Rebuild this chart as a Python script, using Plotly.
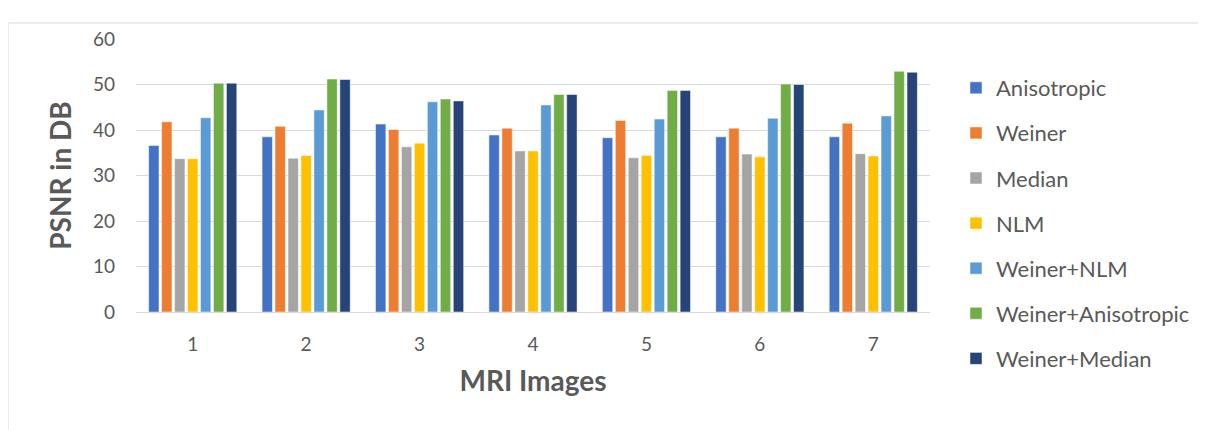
import plotly.graph_objects as go

categories = ["1", "2", "3", "4", "5", "6", "7"]
series_names = ["Anisotropic", "Weiner", "Median", "NLM", "Weiner+NLM",
                "Weiner+Anisotropic", "Weiner+Median"]
anisotropic = [36.6, 38.5, 41.3, 38.9, 38.3, 38.5, 38.5]
weiner = [41.8, 40.8, 40.1, 40.4, 42.1, 40.4, 41.5]
median = [33.7, 33.8, 36.3, 35.4, 33.9, 34.7, 34.8]
nlm = [33.7, 34.4, 37.1, 35.4, 34.4, 34.1, 34.3]
weiner_nlm = [42.7, 44.4, 46.2, 45.5, 42.4, 42.6, 43.1]
weiner_aniso = [50.3, 51.2, 46.8, 47.8, 48.7, 50.1, 52.9]
weiner_median = [50.3, 51.1, 46.4, 47.8, 48.7, 50.0, 52.7]
colors = ["#4472C4", "#ED7D31", "#A5A5A5", "#FFC000", "#5B9BD5", "#70AD47", "#264478"]
y_ticks = [0, 10, 20, 30, 40, 50, 60]

all_series = [anisotropic, weiner, median, nlm, weiner_nlm, weiner_aniso, weiner_median]

FONT = "Lato"
fig = go.Figure()
for name, vals, col in zip(series_names, all_series, colors):
    fig.add_trace(go.Bar(
        x=categories, y=vals, name=name, legendgroup=name,
        marker=dict(color=col, line=dict(color="white", width=0.5)),
    ))

# figure coords (page body has an 8px margin)
W, H = 1198, 422
L, T = 128, 31
PR, PB = 922, 304
R, B = W - PR, H - PB
pw, ph = PR - L, PB - T

fig.update_layout(
    width=W, height=H,
    margin=dict(l=L, r=R, t=T, b=B, autoexpand=False),
    paper_bgcolor="white", plot_bgcolor="white",
    barmode="group", bargap=0.2, bargroupgap=0.2,
    font=dict(family=FONT, color="#595959"),
    showlegend=True,
    legend=dict(
        x=(948 - L) / pw, y=1 - (59 - T) / ph, xanchor="left", yanchor="top",
        font=dict(size=22, color="#595959", family=FONT),
        traceorder="grouped", tracegroupgap=13.5, maxheight=400,
        bgcolor="rgba(0,0,0,0)",
    ),
    xaxis=dict(
        showgrid=False, showline=True, linecolor="#D9D9D9", linewidth=1,
        ticks="", ticklabelstandoff=15, tickfont=dict(size=19, color="#595959"),
        title=dict(text="<b>MRI Images</b>", font=dict(size=28, color="#595959"), standoff=17),
    ),
    yaxis=dict(
        range=[0, 60], tickvals=y_ticks, showgrid=True, gridcolor="#D9D9D9", gridwidth=1,
        zeroline=False, showline=False, ticks="", ticklabelstandoff=20,
        tickfont=dict(size=19, color="#595959"),
        title=dict(text="<b>PSNR in DB</b>", font=dict(size=28, color="#595959"), standoff=13),
    ),
    shapes=[dict(
        type="rect", xref="paper", yref="paper",
        x0=(0 - L) / pw, x1=(1210 - L) / pw,
        y0=1 - (440 - T) / ph, y1=1 + (T - 15) / ph,
        line=dict(color="#D9D9D9", width=1), fillcolor="rgba(0,0,0,0)", layer="below",
    )],
)

fig.write_html("out.html")
